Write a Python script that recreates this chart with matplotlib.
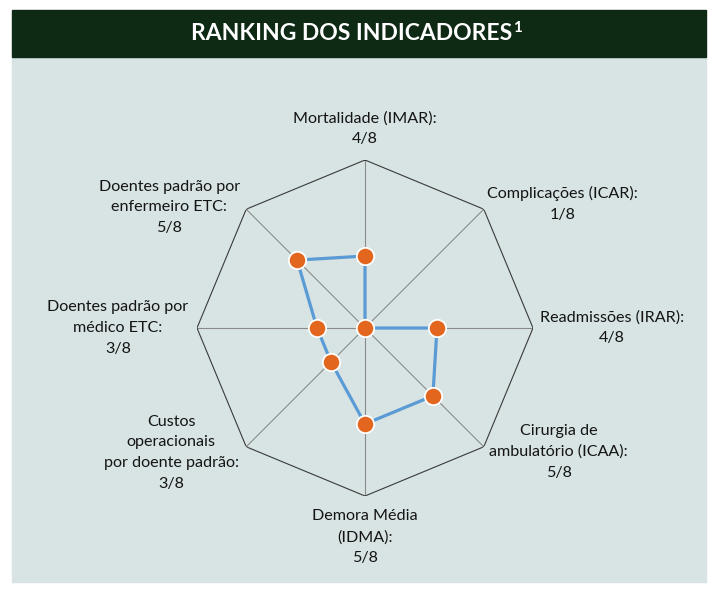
import numpy as np
import matplotlib.pyplot as plt
from matplotlib.patches import Rectangle

# Dados do ranking (posição em 8)
indicadores = ['Mortalidade (IMAR):', 'Complicações (ICAR):', 'Readmissões (IRAR):',
               'Cirurgia de\nambulatório (ICAA):', 'Demora Média\n(IDMA):',
               'Custos\noperacionais\npor doente padrão:', 'Doentes padrão por\nmédico ETC:',
               'Doentes padrão por\nenfermeiro ETC:']
ranking = [4, 1, 4, 5, 5, 3, 3, 5]
total = 8

plt.rcParams['font.family'] = ['Lato', 'DejaVu Sans']

fig = plt.figure(figsize=(7.12, 5.93), dpi=100)
W, H = 712, 593

# fundo: barra do título e painel
fig.patches.append(Rectangle((12 / W, 1 - 582 / H), 694 / W, 525 / H,
                             transform=fig.transFigure, color='#D8E3E3', zorder=-2))
fig.patches.append(Rectangle((12 / W, 1 - 57 / H), 694 / W, 47 / H,
                             transform=fig.transFigure, color='#0E2914', zorder=-2))
tit = fig.text(352 / W, 1 - 34 / H, 'RANKING DOS INDICADORES', color='white',
               fontsize=16.5, fontweight='bold', ha='center', va='center')
fig.add_artist(plt.Annotation('1', xy=(1, 1), xycoords=tit, xytext=(0.6, 1.5),
                              textcoords='offset points', color='white',
                              fontsize=11, fontweight='bold', ha='left', va='top'))

# eixo polar
cx, cy, rad = 365, 328, 168
ax = fig.add_axes([(cx - rad) / W, 1 - (cy + rad) / H, 2 * rad / W, 2 * rad / H],
                  projection='polar')
ax.set_zorder(1)
ax.set_theta_zero_location('N')
ax.set_theta_direction(-1)
ax.set_ylim(1, total)
ax.axis('off')
ax.patch.set_alpha(0)

n = len(ranking)
ang = np.linspace(0, 2 * np.pi, n, endpoint=False)

# raios e octógono
for a in ang:
    ax.plot([a, a], [1, total], color='#8A8A8A', lw=0.8, zorder=1)
ang_c = np.append(ang, ang[0])
ax.plot(ang_c, [total] * (n + 1), color='#3A3A3A', lw=0.8, zorder=1)

vals = ranking + ranking[:1]
ax.plot(ang_c, vals, color='#5B9BD5', lw=2.3, zorder=2)
ax.plot(ang, ranking, 'o', color='#E2661E', markersize=12.5,
        markeredgecolor='white', markeredgewidth=1.3, zorder=3, clip_on=False)

# rótulos
offsets = [(0, 31), (79, 5), (79, 0), (75, -5), (0, -41), (-75, -6), (-79, 0), (-77, 2)]
for a, lab, v, off in zip(ang, indicadores, ranking, offsets):
    ax.annotate(f'{lab}\n{v}/{total}', xy=(a, total), xytext=off,
                textcoords='offset pixels', ha='center', va='center',
                fontsize=11.6, color='#141414', linespacing=1.6,
                annotation_clip=False)

plt.savefig('out.png', dpi=100)
